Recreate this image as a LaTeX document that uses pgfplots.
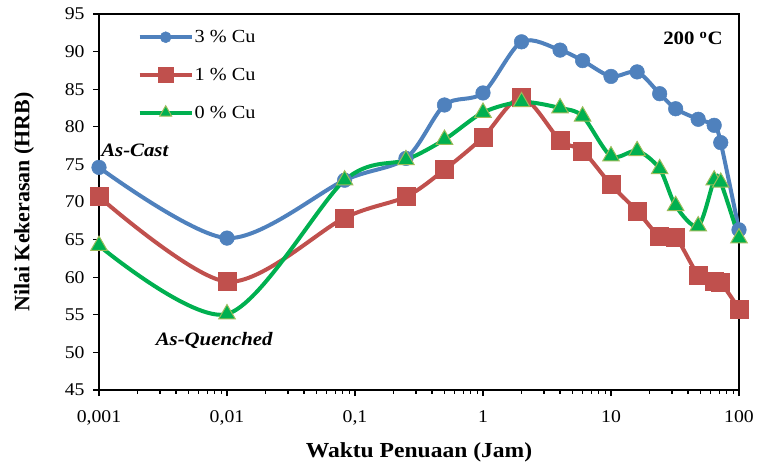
\documentclass[border=0pt]{standalone}
\usepackage{fontspec}
\setmainfont{Liberation Serif}[FakeStretch=1.1]
\newfontfamily\ylabfont{Liberation Serif}
\usepackage{pgfplots}
\pgfplotsset{compat=1.18}
\definecolor{cblue}{HTML}{4F81BD}
\definecolor{cred}{HTML}{C0504D}
\definecolor{cgreen}{HTML}{00B050}
\definecolor{cgedge}{HTML}{9BBB59}
\begin{document}
\begin{tikzpicture}
\useasboundingbox (-99bp,-72bp) rectangle (658bp,390bp);
\begin{axis}[
  scale only axis, width=640bp, height=376bp,
  at={(0,0)}, anchor=south west,
  xmode=log, xmin=0.001, xmax=100, ymin=45, ymax=95,
  ytick={45,50,...,95},
  xtick={0.001,0.01,0.1,1,10,100},
  xticklabels={{0,001},{0,01},{0,1},1,10,100},
  minor xtick={0.002,0.003,0.004,0.005,0.006,0.007,0.008,0.009,0.02,0.03,0.04,0.05,0.06,0.07,0.08,0.09,0.2,0.3,0.4,0.5,0.6,0.7,0.8,0.9,2,3,4,5,6,7,8,9,20,30,40,50,60,70,80,90},
  tick pos=left, tick align=outside,
  major tick length=6bp, minor tick length=3.5bp,
  axis line style={line width=1.3bp},
  every tick/.style={line width=1.2bp, black},
  /pgf/number format/assume math mode=true,
  ticklabel style={font=\fontsize{18}{21}\selectfont},
  xticklabel style={yshift=-11bp},
  yticklabel style={xshift=-5bp},
  xlabel={\bfseries Waktu Penuaan (Jam)},
  xlabel style={font=\fontsize{21.5}{24}\selectfont, at={(rel axis cs:0.5,0)}, anchor=base, yshift=-67bp},
  ylabel={\ylabfont\bfseries Nilai Kekerasan (HRB)},
  ylabel style={font=\fontsize{22}{25}\selectfont, at={(rel axis cs:0,0.5)}, anchor=center, yshift=75bp},
  clip=false,
  legend style={at={(rel axis cs:0.0555,0.965)}, anchor=north west, draw=none, fill=none,
    font=\fontsize{18.5}{21}\selectfont, row sep=22bp, nodes={inner sep=1bp},
    column sep=0pt},
  legend cell align=left,
  legend image code/.code={\draw[mark repeat=2,mark phase=2,#1] plot coordinates {(0bp,0bp) (26bp,0bp) (52bp,0bp)};},
]
\addlegendimage{color=cblue, line width=4bp, mark=*, mark size=5.5bp, mark options={fill=cblue, draw=cblue, line width=0.5bp}}
\addlegendentry{3 \% Cu}
\addlegendimage{color=cred, line width=4bp, mark=square*, mark size=7.5bp, mark options={fill=cred, draw=cred, line width=0.5bp}}
\addlegendentry{1 \% Cu}
\addlegendimage{color=cgreen, line width=4bp, mark=triangle*, mark size=7bp, mark options={fill=cgreen, draw=cgedge, line width=1bp}}
\addlegendentry{0 \% Cu}

% 3 % Cu
\addplot[forget plot, smooth, color=cblue, line width=4bp, mark=*, mark size=7.3bp, mark options={fill=cblue, draw=cblue, line width=0.5bp}] coordinates {
(0.001,74.6) (0.01,65.2) (0.083,72.9) (0.25,75.8) (0.5,82.9) (1,84.5) (2,91.3) (4,90.2) (6,88.8) (10,86.7) (16,87.3) (24,84.4) (32,82.4) (48,81.0) (64,80.2) (72,77.9) (100,66.3)};
% 1 % Cu
\addplot[forget plot, smooth, color=cred, line width=4bp, mark=square*, mark size=9bp, mark options={fill=cred, draw=cred, line width=0.5bp}] coordinates {
(0.001,70.7) (0.01,59.4) (0.083,67.9) (0.25,70.7) (0.5,74.3) (1,78.6) (2,83.9) (4,78.2) (6,76.8) (10,72.3) (16,68.8) (24,65.4) (32,65.3) (48,60.3) (64,59.4) (72,59.3) (100,55.8)};
% 0 % Cu
\addplot[forget plot, smooth, color=cgreen, line width=4bp, mark=triangle*, mark size=9.5bp, mark options={fill=cgreen, draw=cgedge, line width=1bp}] coordinates {
(0.001,64.2) (0.01,55.1) (0.083,72.9) (0.25,75.6) (0.5,78.3) (1,81.9) (2,83.3) (4,82.5) (6,81.4) (10,76.1) (16,76.8) (24,74.4) (32,69.5) (48,66.8) (64,72.9) (72,72.6) (100,65.2)};

\node[font=\fontsize{19}{22}\selectfont\bfseries\itshape] at (rel axis cs:0.056,0.638) {As-Cast};
\node[font=\fontsize{19}{22}\selectfont\bfseries\itshape] at (rel axis cs:0.18,0.133) {As-Quenched};
\node[font=\fontsize{19}{22}\selectfont\bfseries] at (rel axis cs:0.928,0.936) {200 \textsuperscript{o}C};
\end{axis}
\end{tikzpicture}
\end{document}
